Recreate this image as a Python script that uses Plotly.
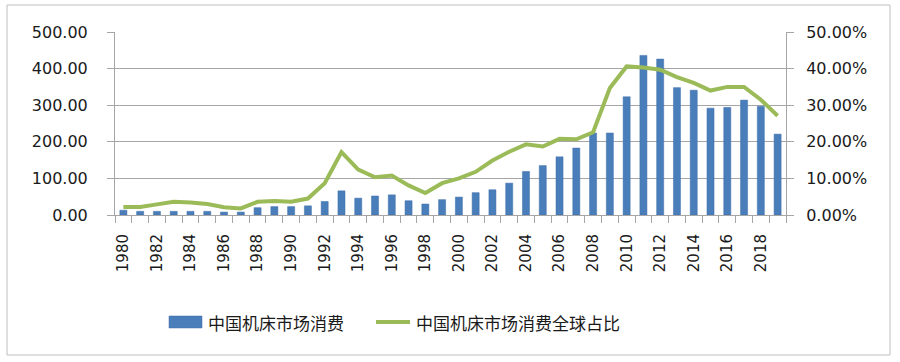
import plotly.graph_objects as go

years = [str(y) for y in range(1980, 2020)]
consumption = [13, 10, 10, 10, 10, 10, 8, 8, 20, 23,
               23, 25, 37, 66, 46, 52, 55, 39, 30, 42,
               49, 61, 69, 87, 119, 135, 159, 183, 224, 224,
               323, 436, 426, 348, 341, 292, 294, 314, 297, 221]
share = [2.2, 2.2, 2.9, 3.6, 3.4, 3.0, 2.1, 1.8, 3.6, 3.8,
         3.6, 4.5, 8.7, 17.2, 12.4, 10.3, 10.8, 8.1, 6.0, 8.7,
         10.0, 11.8, 14.9, 17.3, 19.3, 18.7, 20.8, 20.7, 22.6, 34.7,
         40.6, 40.3, 39.7, 37.7, 36.1, 34.0, 35.0, 35.0, 31.5, 27.1]
share_frac = [v / 100 for v in share]
tick_text = [y if int(y) % 2 == 0 else "" for y in years]
name_bar = "中国机床市场消费"
name_line = "中国机床市场消费全球占比"

W, H = 900, 362
L, R, T, B = 115, 114, 32, 147
pw, ph = W - L - R, H - T - B

def px(x):
    return (x - L) / pw

def py(y):
    return (H - B - y) / ph

fig = go.Figure()
fig.add_trace(go.Bar(x=years, y=consumption, name=name_bar,
                     marker=dict(color="#4a7ebb", line=dict(color="#3f6fa8", width=0.5)),
                     yaxis="y", showlegend=False))
fig.add_trace(go.Scatter(x=years, y=share_frac, name=name_line, mode="lines",
                         line=dict(color="#9bbb59", width=4), yaxis="y2", showlegend=False))

grid = "#a6a6a6"
axfont = dict(family="DejaVu Sans", size=16, color="#1a1a1a")
fig.update_layout(
    width=W, height=H,
    margin=dict(l=L, r=R, t=T, b=B),
    paper_bgcolor="white", plot_bgcolor="white",
    bargap=0.58,
    xaxis=dict(type="category", tickvals=years, ticktext=tick_text, tickangle=-90,
               tickson="boundaries", ticks="outside", ticklen=7, tickcolor=grid,
               showline=True, linecolor=grid, linewidth=1, showgrid=False,
               ticklabelstandoff=12,
               tickfont=dict(family="DejaVu Sans", size=15, color="#1a1a1a")),
    yaxis=dict(range=[0, 500], dtick=100, tickformat=".2f", showgrid=True,
               gridcolor=grid, gridwidth=1, showline=True, linecolor=grid,
               ticks="outside", ticklen=7, tickcolor=grid, tickfont=axfont,
               ticklabelstandoff=16, zeroline=False),
    yaxis2=dict(range=[0, 0.5], dtick=0.1, tickformat=".2%", overlaying="y",
                side="right", showgrid=False, showline=True, linecolor=grid,
                ticks="outside", ticklen=7, tickcolor=grid, tickfont=axfont,
                ticklabelstandoff=9, zeroline=False),
    showlegend=False,
)

shapes = [
    dict(type="rect", xref="paper", yref="paper", x0=px(7), x1=px(890), y0=py(355), y1=py(5),
         line=dict(color="#bfbfbf", width=1), fillcolor="rgba(0,0,0,0)", layer="below"),
    dict(type="rect", xref="paper", yref="paper", x0=px(169), x1=px(202), y0=py(328), y1=py(316),
         line=dict(color="#3f6fa8", width=0.5), fillcolor="#4a7ebb"),
    dict(type="line", xref="paper", yref="paper", x0=px(376), x1=px(410), y0=py(322), y1=py(322),
         line=dict(color="#9bbb59", width=4)),
]
legfont = dict(family="Noto Sans CJK SC", size=17, color="#1a1a1a")
annotations = [
    dict(xref="paper", yref="paper", x=px(206), y=py(322), text=name_bar, showarrow=False,
         xanchor="left", yanchor="middle", font=legfont),
    dict(xref="paper", yref="paper", x=px(414), y=py(322), text=name_line, showarrow=False,
         xanchor="left", yanchor="middle", font=legfont),
]
fig.update_layout(shapes=shapes, annotations=annotations)
fig.write_html("out.html", config={"displayModeBar": False},
               post_script="document.body.style.margin='0';document.body.style.overflow='hidden';")
